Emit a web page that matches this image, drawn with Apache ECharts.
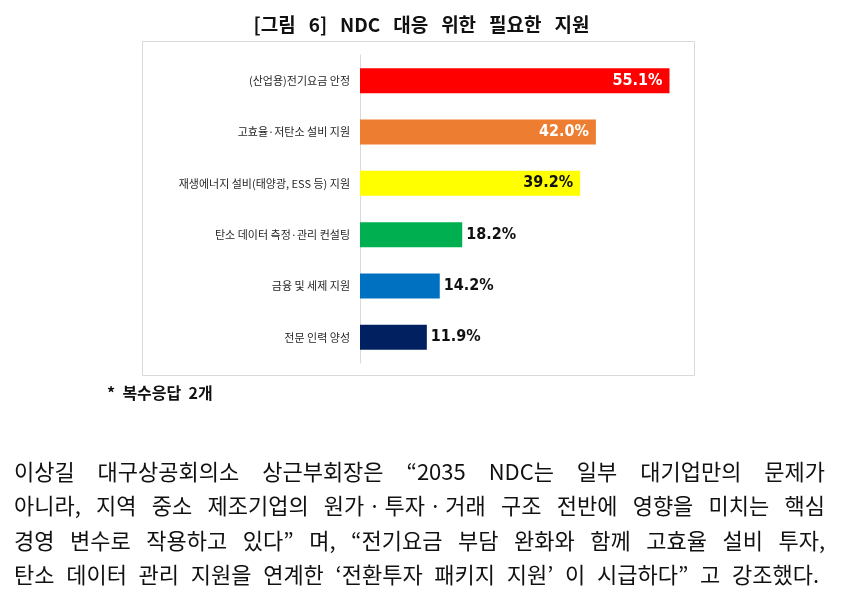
<!DOCTYPE html>
<html>
<head>
<meta charset="utf-8">
<script src="https://cdn.jsdelivr.net/npm/echarts@6/dist/echarts.min.js"></script>
<style>
    html, body { margin: 0; padding: 0; background: #fff; }
    #wrap { position: relative; width: 843px; height: 600px; overflow: hidden; }
    #chart { position: absolute; left: 0; top: 0; width: 843px; height: 600px; }
    #para {
        position: absolute; left: 14px; top: 453px; width: 811px;
        font-family: "Noto Sans CJK KR", sans-serif; font-size: 22px; color: #111;
        line-height: 34.3px;
    }
    #para div { text-align: justify; text-align-last: justify; white-space: nowrap; }
    #para div.last { width: 805px; }
</style>
</head>
<body>
<div id="wrap">
    <div id="chart"></div>
    <div id="para">
        <div>이상길 대구상공회의소 상근부회장은 “2035 NDC는 일부 대기업만의 문제가</div>
        <div>아니라, 지역 중소 제조기업의 원가ㆍ투자ㆍ거래 구조 전반에 영향을 미치는 핵심</div>
        <div>경영 변수로 작용하고 있다” 며, “전기요금 부담 완화와 함께 고효율 설비 투자,</div>
        <div class="last">탄소 데이터 관리 지원을 연계한 ‘전환투자 패키지 지원’ 이 시급하다” 고 강조했다.</div>
    </div>
</div>
<script>
(function(){

    // data
    let categories = [
        '(산업용)전기요금 안정',
        '고효율·저탄소 설비 지원',
        '재생에너지 설비(태양광, ESS 등) 지원',
        '탄소 데이터 측정·관리 컨설팅',
        '금융 및 세제 지원',
        '전문 인력 양성'
    ];
    let values = [55.1, 42.0, 39.2, 18.2, 14.2, 11.9];

    let barColors = ['#ff0000', '#ed7d31', '#ffff00', '#00b050', '#0070c0', '#002060'];
    let insideLabelColors = ['#ffffff', '#ffffff', '#111111'];

    let _labelFont = {
        fontFamily: '"Liberation Sans Narrow", "DejaVu Sans Condensed", sans-serif',
        fontWeight: 'bold',
        fontSize: 16
    };

    let seriesData = values.map(function(v, i){
        let inside = v > 30;
        return {
            value: v,
            itemStyle: { color: barColors[i] },
            label: Object.assign({
                show: true,
                position: inside ? 'insideRight' : 'right',
                distance: inside ? 7 : 4,
                color: inside ? insideLabelColors[i] : '#111111',
                formatter: function(p){ return p.value.toFixed(1) + '%'; }
            }, _labelFont)
        };
    });

    let chart = echarts.init(document.getElementById('chart'), null, { renderer: 'canvas' });

    chart.setOption({
        animation: false,
        title: {
            text: '[그림   6]   NDC   대응   위한   필요한   지원',
            left: 'center',
            top: 10,
            textStyle: {
                fontFamily: '"Noto Sans CJK KR", sans-serif',
                fontWeight: 'bold',
                fontSize: 19,
                color: '#111'
            }
        },
        graphic: [
            {
                type: 'rect',
                shape: { x: 142.5, y: 41.5, width: 552, height: 334 },
                style: { fill: 'none', stroke: '#d9d9d9', lineWidth: 1 },
                silent: true
            },
            {
                type: 'text',
                left: 107,
                top: 385,
                style: {
                    text: '*  복수응답  2개',
                    font: 'bold 16px "Noto Sans CJK KR", sans-serif',
                    fill: '#111'
                }
            }
        ],
        grid: {
            left: 360,
            top: 55,
            width: 337,
            height: 308,
            containLabel: false
        },
        xAxis: {
            type: 'value',
            min: 0,
            max: 60,
            show: false
        },
        yAxis: {
            type: 'category',
            inverse: true,
            data: categories,
            axisTick: { show: false },
            axisLine: { lineStyle: { color: '#d9d9d9', width: 1 } },
            axisLabel: {
                margin: 10,
                color: '#262626',
                fontSize: 11,
                fontFamily: '"Noto Sans CJK KR", sans-serif'
            },
            splitLine: { show: false }
        },
        series: [{
            type: 'bar',
            data: seriesData,
            barWidth: 25
        }]
    });

    window.addEventListener('resize', function(){ chart.resize(); });
})();
</script>
</body>
</html>
